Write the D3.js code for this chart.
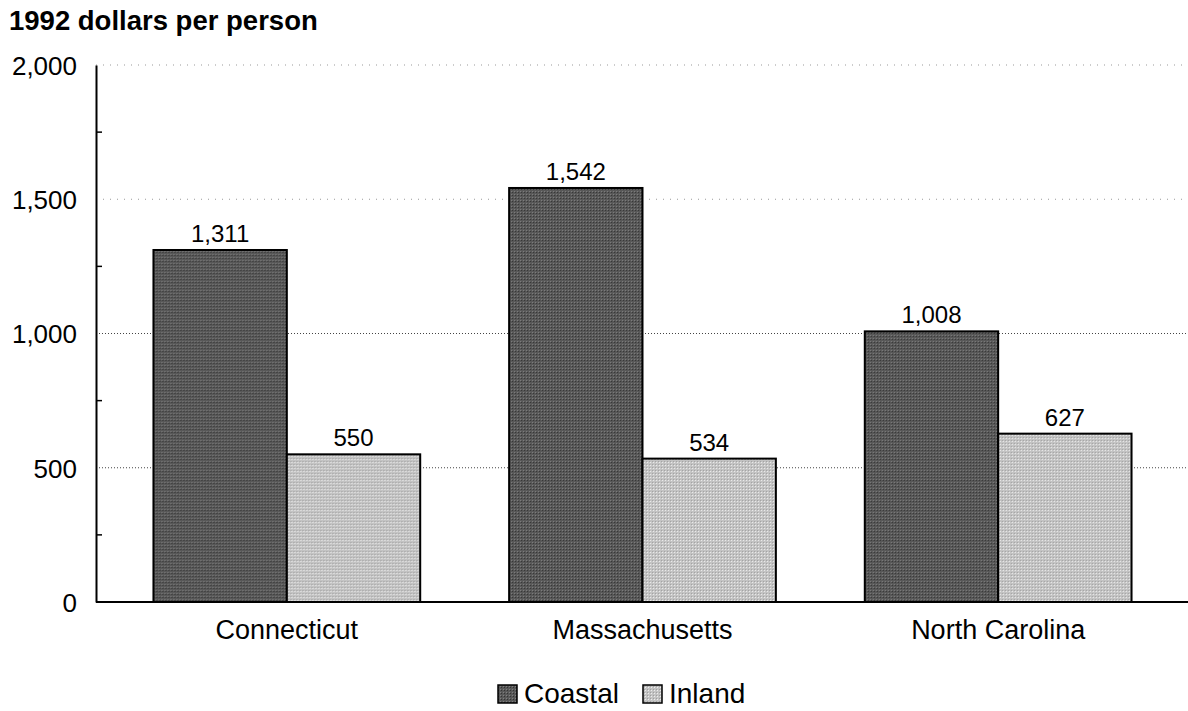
<!DOCTYPE html>
<html><head><meta charset="utf-8">
<script src="https://cdn.jsdelivr.net/npm/d3@7"></script>
<style>body{margin:0;background:#fff;} svg{display:block;font-family:"Liberation Sans",Arial,sans-serif;}</style>
</head><body>
<svg id="c" width="1188" height="711"></svg>
<script>
const categories = ["Connecticut", "Massachusetts", "North Carolina"];
const seriesNames = ["Coastal", "Inland"];
const coastal = [1311, 1542, 1008];
const inland = [550, 534, 627];
const yTicks = [0, 500, 1000, 1500, 2000];
const minorTicks = [250, 750, 1250, 1750];
const fills = ["#585858", "#c3c3c3"];

const svg = d3.select("#c");
const y = d3.scaleLinear().domain([0, 2000]).range([602, 65]);
const x0 = d3.scaleBand().domain(categories).range([109, 1176]).paddingInner(0.25).paddingOuter(0.125);
const x1 = d3.scaleBand().domain(seriesNames).range([0, x0.bandwidth()]);

const defs = svg.append("defs");
fills.forEach((f, i) => {
  const p = defs.append("pattern").attr("id", "pat" + i).attr("width", 3).attr("height", 3).attr("patternUnits", "userSpaceOnUse");
  p.append("rect").attr("width", 3).attr("height", 3).attr("fill", f);
  p.append("rect").attr("width", 1).attr("height", 1).attr("fill", i === 0 ? "#333" : "#eee");
  p.append("rect").attr("x", 2).attr("y", 2).attr("width", 1).attr("height", 1).attr("fill", i === 0 ? "#808080" : "#a0a0a0");
});

// gridlines
svg.append("g").selectAll("line").data(yTicks.filter(d => d > 0)).join("line")
  .attr("x1", 96).attr("x2", 1188).attr("y1", d => y(d)).attr("y2", d => y(d))
  .attr("stroke", d => d <= 1000 ? "#444" : "#999").attr("stroke-width", 1)
  .attr("stroke-dasharray", d => d <= 1000 ? "1,2" : "1,6");

// y axis
const yAxis = d3.axisLeft(y).tickValues(yTicks).tickSize(0).tickPadding(19).tickFormat(d3.format(","));
const gy = svg.append("g").attr("transform", "translate(96,0)").call(yAxis);
gy.select(".domain").attr("stroke", "#000").attr("stroke-width", 2);
gy.selectAll("text").attr("font-size", 26).attr("fill", "#000").attr("font-family", "Liberation Sans, Arial, sans-serif").attr("dy", "0.36em");
svg.append("g").selectAll("line").data(minorTicks).join("line")
  .attr("x1", 96).attr("x2", 102).attr("y1", d => y(d)).attr("y2", d => y(d))
  .attr("stroke", "#000").attr("stroke-width", 1.5);

// bars
const data = categories.map((c, i) => ({cat: c, vals: [coastal[i], inland[i]]}));
const groups = svg.append("g").selectAll("g").data(data).join("g")
  .attr("transform", d => `translate(${x0(d.cat)},0)`);
groups.selectAll("rect").data(d => d.vals.map((v, j) => ({v, s: seriesNames[j], j}))).join("rect")
  .attr("x", d => x1(d.s)).attr("width", x1.bandwidth())
  .attr("y", d => y(d.v)).attr("height", d => y(0) - y(d.v))
  .attr("fill", d => `url(#pat${d.j})`).attr("stroke", "#000").attr("stroke-width", 2);
groups.selectAll("text").data(d => d.vals.map((v, j) => ({v, s: seriesNames[j]}))).join("text")
  .attr("x", d => x1(d.s) + x1.bandwidth() / 2).attr("y", d => y(d.v) - 8)
  .attr("text-anchor", "middle").attr("font-size", 24).text(d => d3.format(",")(d.v));

// x axis
svg.append("line").attr("x1", 96).attr("x2", 1188).attr("y1", 602).attr("y2", 602).attr("stroke", "#000").attr("stroke-width", 2);
svg.append("g").selectAll("text").data(categories).join("text")
  .attr("x", d => x0(d) + x0.bandwidth() / 2).attr("y", 639).attr("text-anchor", "middle")
  .attr("font-size", 27).text(d => d);

// title
svg.append("text").attr("x", 9).attr("y", 30).attr("font-size", 27.5).attr("font-weight", "bold").text("1992 dollars per person");

// legend
const leg = svg.append("g");
const legItems = [{s: "Coastal", x: 498}, {s: "Inland", x: 643}];
legItems.forEach((it, i) => {
  leg.append("rect").attr("x", it.x).attr("y", 685).attr("width", 19).attr("height", 18)
    .attr("fill", `url(#pat${i})`).attr("stroke", "#000").attr("stroke-width", 1.5);
  leg.append("text").attr("x", it.x + 26).attr("y", 703).attr("font-size", 28).text(it.s);
});
</script>
</body></html>
